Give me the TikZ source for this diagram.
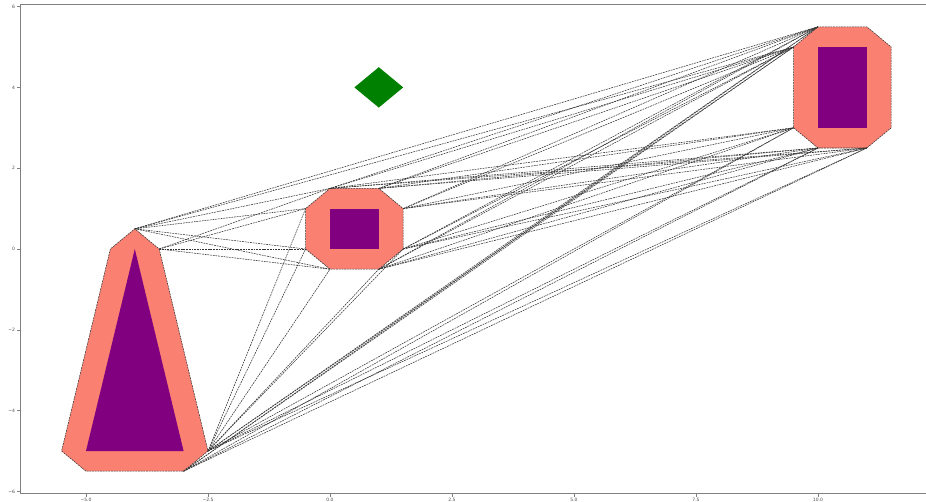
\documentclass[tikz,border=0pt]{standalone}
\usepackage{fontspec}
\setmainfont{DejaVu Sans}
\definecolor{salmonc}{HTML}{FA8072}
\definecolor{purplec}{HTML}{800080}
\definecolor{greenc}{HTML}{008000}
\begin{document}
\begin{tikzpicture}[x=48.8pt,y=40.4pt,
  vis/.style={black!80, line width=0.55pt, dash pattern=on 1.8pt off 0.9pt},
  axisline/.style={black!50, line width=0.6pt},
  ticklab/.style={font=\fontsize{4.5}{5}\selectfont, text=black!70, inner sep=0pt}]
\useasboundingbox (-6.7623,-6.2376) rectangle (12.2131,6.1634);
\fill[white] (-6.7623,-6.2376) rectangle (12.2131,6.1634);
% inflated triangle
\coordinate (T1) at (-5.5,-5);
\coordinate (T2) at (-5,-5.5);
\coordinate (T3) at (-3,-5.5);
\coordinate (T4) at (-2.5,-5);
\coordinate (T5) at (-3.5,0);
\coordinate (T6) at (-4,0.5);
\coordinate (T7) at (-4.5,0);
% inflated middle square
\coordinate (M1) at (-0.5,0);
\coordinate (M2) at (-0.5,1);
\coordinate (M3) at (0,1.5);
\coordinate (M4) at (1,1.5);
\coordinate (M5) at (1.5,1);
\coordinate (M6) at (1.5,0);
\coordinate (M7) at (1,-0.5);
\coordinate (M8) at (0,-0.5);
% inflated right rectangle
\coordinate (R1) at (9.5,3);
\coordinate (R2) at (9.5,5);
\coordinate (R3) at (10,5.5);
\coordinate (R4) at (11,5.5);
\coordinate (R5) at (11.5,5);
\coordinate (R6) at (11.5,3);
\coordinate (R7) at (11,2.5);
\coordinate (R8) at (10,2.5);
% obstacles
\coordinate (A1) at (-5,-5);
\coordinate (A2) at (-3,-5);
\coordinate (A3) at (-4,0);
\coordinate (B1) at (0,0);
\coordinate (B2) at (1,0);
\coordinate (B3) at (1,1);
\coordinate (B4) at (0,1);
\coordinate (C1) at (10,3);
\coordinate (C2) at (11,3);
\coordinate (C3) at (11,5);
\coordinate (C4) at (10,5);
\coordinate (G1) at (0.5,4);
\coordinate (G2) at (1,3.5);
\coordinate (G3) at (1.5,4);
\coordinate (G4) at (1,4.5);

\fill[salmonc] (T1)--(T2)--(T3)--(T4)--(T5)--(T6)--(T7)--cycle;
\fill[salmonc] (M1)--(M8)--(M7)--(M6)--(M5)--(M4)--(M3)--(M2)--cycle;
\fill[salmonc] (R1)--(R8)--(R7)--(R6)--(R5)--(R4)--(R3)--(R2)--cycle;

% visibility edges
\foreach \a/\b in {T4/M1,T4/M2,T4/M6,T4/M7,T4/M8,
                   T5/M1,T5/M2,T5/M3,T5/M8,
                   T6/M1,T6/M2,T6/M3,T6/M8,
                   T3/R1,T3/R2,T3/R3,T3/R7,T3/R8,
                   T4/R1,T4/R2,T4/R3,T4/R7,T4/R8,
                   T6/R2,T6/R3,
                   M3/R1,M3/R2,M3/R3,M3/R7,M3/R8,
                   M4/R1,M4/R2,M4/R3,M4/R7,M4/R8,
                   M5/R1,M5/R2,M5/R3,M5/R7,M5/R8,
                   M6/R1,M6/R2,M6/R3,M6/R7,M6/R8,
                   M7/R1,M7/R2,M7/R3,M7/R7,M7/R8}
  {\draw[vis] (\a) -- (\b);}
% polygon edges
\draw[vis] (T1)--(T2)--(T3)--(T4)--(T5)--(T6)--(T7)--cycle;
\draw[vis] (M1)--(M8)--(M7)--(M6)--(M5)--(M4)--(M3)--(M2)--cycle;
\draw[vis] (R1)--(R8)--(R7)--(R6)--(R5)--(R4)--(R3)--(R2)--cycle;

\fill[purplec] (A1)--(A2)--(A3)--cycle;
\fill[purplec] (B1)--(B2)--(B3)--(B4)--cycle;
\fill[purplec] (C1)--(C2)--(C3)--(C4)--cycle;
\fill[greenc] (G1)--(G2)--(G3)--(G4)--cycle;

% axes frame
\coordinate (F1) at (-6.35,-6.05);
\coordinate (F2) at (-6.35,6.05);
\coordinate (F3) at (12.35,6.05);
\coordinate (F4) at (12.35,-6.05);
\draw[axisline] (F4)--(F1)--(F2)--(F3);
\foreach \v/\l [count=\i] in {-5/{−5.0},-2.5/{−2.5},0/{0.0},2.5/{2.5},5/{5.0},7.5/{7.5},10/{10.0}}{
  \draw[axisline,line width=0.4pt] (\v,-6.05) -- (\v,-6.13) coordinate (xt\i);
  \node[ticklab,anchor=north] (xl\i) at ([yshift=-1pt]xt\i) {\l};
}
\foreach \v/\l [count=\i] in {-6/{−6},-4/{−4},-2/{−2},0/{0},2/{2},4/{4},6/{6}}{
  \draw[axisline,line width=0.4pt] (-6.35,\v) -- (-6.42,\v) coordinate (yt\i);
  \node[ticklab,anchor=east] (yl\i) at ([xshift=-1.5pt]yt\i) {\l};
}
\end{tikzpicture}
\end{document}
